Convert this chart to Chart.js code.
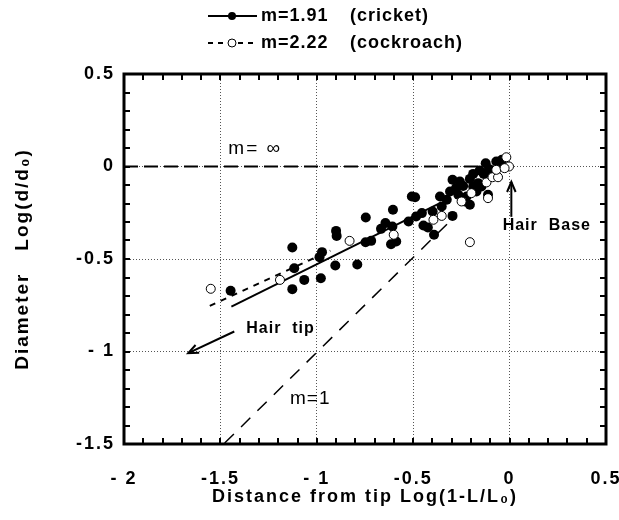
<!DOCTYPE html>
<html>
<head>
<meta charset="utf-8">
<script src="https://cdn.jsdelivr.net/npm/chart.js@4.4.1/dist/chart.umd.min.js"></script>
<style>
  html, body { margin: 0; padding: 0; background: #fff; }
  #wrap { width: 619px; height: 520px; }
</style>
</head>
<body>
<div id="wrap"><canvas id="chart" width="619" height="520"></canvas></div>
<script>
// tick labels as printed in the figure
const xTickValues = [-2, -1.5, -1, -0.5, 0, 0.5];
const xTickLabels = ["- 2", "-1.5", "- 1", "-0.5", "0", "0.5"];
const yTickValues = [-1.5, -1, -0.5, 0, 0.5];
const yTickLabels = ["-1.5", "- 1", "-0.5", "0", "0.5"];

// cricket hairs (filled circles)
const cricketX = [-1.447, -1.127, -1.117, -1.127, -1.065, -0.979, -0.973, -0.986, -0.904, -0.900,
  -0.897, -0.790, -0.746, -0.747, -0.718, -0.667, -0.644, -0.605, -0.615, -0.588,
  -0.608, -0.524, -0.507, -0.490, -0.485, -0.455, -0.447, -0.424, -0.392, -0.399,
  -0.361, -0.352, -0.296, -0.296, -0.278, -0.266, -0.241, -0.232, -0.206, -0.206,
  -0.189, -0.163, -0.155, -0.134, -0.124, -0.107, -0.112, -0.095, -0.069, -0.052,
  -0.040, -0.146, -0.172, -0.258, -0.309, -0.326, -0.223, -0.189];
const cricketY = [-0.672, -0.438, -0.550, -0.663, -0.613, -0.604, -0.463, -0.490, -0.535, -0.348,
  -0.375, -0.530, -0.276, -0.409, -0.402, -0.337, -0.306, -0.234, -0.420, -0.405,
  -0.324, -0.297, -0.162, -0.166, -0.270, -0.252, -0.319, -0.330, -0.369, -0.243,
  -0.162, -0.216, -0.267, -0.072, -0.117, -0.153, -0.105, -0.189, -0.207, -0.067,
  -0.040, -0.090, -0.022, -0.040, 0.018, -0.014, -0.153, -0.036, 0.027, 0.004,
  0.036, -0.108, -0.135, -0.081, -0.135, -0.180, -0.162, -0.108];

// cockroach hairs (open circles)
const cockroachX = [-1.550, -1.191, -0.830, -0.601, -0.395, -0.352, -0.249, -0.198, -0.206, -0.112,
  -0.120, -0.089, -0.060, -0.069, -0.017, -0.003, -0.026];
const cockroachY = [-0.661, -0.613, -0.402, -0.369, -0.288, -0.267, -0.189, -0.144, -0.409, -0.171,
  -0.086, -0.058, -0.058, -0.018, 0.050, 0.000, -0.009];

// fitted lines and reference slopes (end points)
const fitCricketX = [-1.443, -0.361];
const fitCricketY = [-0.757, -0.198];
const fitCockroachX = [-1.555, -0.93];
const fitCockroachY = [-0.753, -0.455];
const slopeOneX = [-1.478, -0.284];
const slopeOneY = [-1.495, -0.270];
const slopeInfX = [-2, 0];
const slopeInfY = [0, 0];

const seriesNames = ["m=1.91", "m=2.22"];
const speciesNames = ["(cricket)", "(cockroach)"];

const toPoints = (xs, ys) => xs.map((x, i) => ({ x: x, y: ys[i] }));
const pickLabel = (values, labels, v) => {
  const i = values.findIndex((t) => Math.abs(t - v) < 1e-6);
  return i >= 0 ? labels[i] : "";
};

const FONT = "'Liberation Sans', Arial, Helvetica, sans-serif";

function arrow(ctx, x1, y1, x2, y2) {
  const a = Math.atan2(y2 - y1, x2 - x1);
  const h = 11;
  ctx.beginPath();
  ctx.moveTo(x1, y1);
  ctx.lineTo(x2, y2);
  ctx.stroke();
  ctx.beginPath();
  ctx.moveTo(x2 - h * Math.cos(a - 0.4), y2 - h * Math.sin(a - 0.4));
  ctx.lineTo(x2, y2);
  ctx.lineTo(x2 - h * Math.cos(a + 0.4), y2 - h * Math.sin(a + 0.4));
  ctx.stroke();
}

const framePlugin = {
  id: "frame",
  beforeDraw(chart) {
    chart.ctx.letterSpacing = "2px";
  },
  afterDraw(chart) {
    const ctx = chart.ctx;
    const xs = chart.scales.x;
    const ys = chart.scales.y;
    const a = chart.chartArea;
    ctx.save();
    ctx.strokeStyle = "#000";
    ctx.fillStyle = "#000";

    // inward minor ticks every 0.1
    ctx.lineWidth = 2;
    ctx.beginPath();
    for (let k = -20; k <= 5; k++) {
      const px = Math.round(xs.getPixelForValue(k / 10));
      ctx.moveTo(px, a.top); ctx.lineTo(px, a.top + 6);
      ctx.moveTo(px, a.bottom); ctx.lineTo(px, a.bottom - 6);
    }
    for (let k = -15; k <= 5; k++) {
      const py = Math.round(ys.getPixelForValue(k / 10));
      ctx.moveTo(a.left, py); ctx.lineTo(a.left + 6, py);
      ctx.moveTo(a.right, py); ctx.lineTo(a.right - 6, py);
    }
    ctx.stroke();

    // heavy frame
    ctx.lineWidth = 3;
    ctx.strokeRect(a.left, a.top, a.right - a.left, a.bottom - a.top);

    // annotations
    ctx.lineWidth = 2;
    ctx.textBaseline = "middle";
    ctx.textAlign = "left";
    ctx.font = "19px " + FONT;
    ctx.fillText("m= \u221E", xs.getPixelForValue(-1.459), ys.getPixelForValue(0.096));
    ctx.letterSpacing = "1px";
    ctx.fillText("m=1", xs.getPixelForValue(-1.139), ys.getPixelForValue(-1.256));
    ctx.font = "bold 16px " + FONT;
    ctx.fillText("Hair  Base", xs.getPixelForValue(-0.036), ys.getPixelForValue(-0.32));
    ctx.fillText("Hair  tip", xs.getPixelForValue(-1.366), ys.getPixelForValue(-0.877));
    arrow(ctx, xs.getPixelForValue(0.009), ys.getPixelForValue(-0.272),
      xs.getPixelForValue(0.009), ys.getPixelForValue(-0.083));
    arrow(ctx, xs.getPixelForValue(-1.428), ys.getPixelForValue(-0.892),
      xs.getPixelForValue(-1.667), ys.getPixelForValue(-1.009));

    // legend
    const rows = [16, 43];
    rows.forEach((y, i) => {
      ctx.lineWidth = 2;
      ctx.setLineDash(i === 0 ? [] : [5, 5]);
      ctx.beginPath();
      ctx.moveTo(208, y); ctx.lineTo(257, y);
      ctx.stroke();
      ctx.setLineDash([]);
      ctx.beginPath();
      ctx.arc(232, y, 4, 0, Math.PI * 2);
      if (i === 0) {
        ctx.fill();
      } else {
        ctx.fillStyle = "#fff";
        ctx.fill();
        ctx.lineWidth = 1;
        ctx.stroke();
        ctx.fillStyle = "#000";
      }
      ctx.font = "bold 18px " + FONT;
      ctx.letterSpacing = "1px";
      ctx.fillText(seriesNames[i], 261, y);
      ctx.fillText(speciesNames[i], 350, y);
    });
    ctx.restore();
  },
};

new Chart(document.getElementById("chart"), {
  type: "scatter",
  data: {
    datasets: [
      {
        label: seriesNames[1],
        data: toPoints(cockroachX, cockroachY),
        pointRadius: 4.5,
        pointBackgroundColor: "#fff",
        pointBorderColor: "#000",
        pointBorderWidth: 1,
        order: 1,
      },
      {
        label: seriesNames[0],
        data: toPoints(cricketX, cricketY),
        pointRadius: 5,
        pointBackgroundColor: "#000",
        pointBorderColor: "#000",
        pointBorderWidth: 0,
        order: 2,
      },
      {
        label: "fit cricket",
        data: toPoints(fitCricketX, fitCricketY),
        showLine: true,
        pointRadius: 0,
        borderColor: "#000",
        borderWidth: 2,
        order: 3,
      },
      {
        label: "fit cockroach",
        data: toPoints(fitCockroachX, fitCockroachY),
        showLine: true,
        pointRadius: 0,
        borderColor: "#000",
        borderWidth: 2,
        borderDash: [6, 6],
        order: 3,
      },
      {
        label: "m=1",
        data: toPoints(slopeOneX, slopeOneY),
        showLine: true,
        pointRadius: 0,
        borderColor: "#000",
        borderWidth: 1.5,
        borderDash: [13, 10],
        order: 4,
      },
      {
        label: "m=inf",
        data: toPoints(slopeInfX, slopeInfY),
        showLine: true,
        pointRadius: 0,
        borderColor: "#000",
        borderWidth: 2,
        borderDash: [14, 6],
        order: 4,
      },
    ],
  },
  options: {
    responsive: false,
    animation: false,
    layout: { padding: { top: 74, right: 13, left: 0, bottom: 0 } },
    plugins: { legend: { display: false }, tooltip: { enabled: false } },
    scales: {
      x: {
        type: "linear",
        min: -2,
        max: 0.5,
        afterFit(scale) {
          scale.height = 76;
          scale.paddingLeft = 0;
          scale.paddingRight = 0;
        },
        ticks: {
          stepSize: 0.5,
          padding: 24,
          color: "#000",
          font: { family: FONT, size: 18, weight: "bold" },
          callback: (v) => pickLabel(xTickValues, xTickLabels, v),
        },
        grid: { color: "#555", lineWidth: 1, drawTicks: false },
        border: { display: false, dash: [1, 2] },
        title: {
          display: true,
          text: "Distance from tip Log(1-L/L\u2080)",
          color: "#000",
          font: { family: FONT, size: 18, weight: "bold" },
          padding: { top: 0, bottom: 12 },
        },
      },
      y: {
        type: "linear",
        min: -1.5,
        max: 0.5,
        afterFit(scale) {
          scale.width = 124;
          scale.paddingTop = 0;
          scale.paddingBottom = 0;
        },
        ticks: {
          stepSize: 0.5,
          padding: 9,
          color: "#000",
          font: { family: FONT, size: 18, weight: "bold" },
          callback: (v) => pickLabel(yTickValues, yTickLabels, v),
        },
        grid: { color: "#555", lineWidth: 1, drawTicks: false },
        border: { display: false, dash: [1, 2] },
        title: {
          display: true,
          text: "Diameter   Log(d/d\u2080)",
          color: "#000",
          font: { family: FONT, size: 19, weight: "bold" },
          padding: { top: 11, bottom: 0 },
        },
      },
    },
  },
  plugins: [framePlugin],
});
</script>
</body>
</html>
